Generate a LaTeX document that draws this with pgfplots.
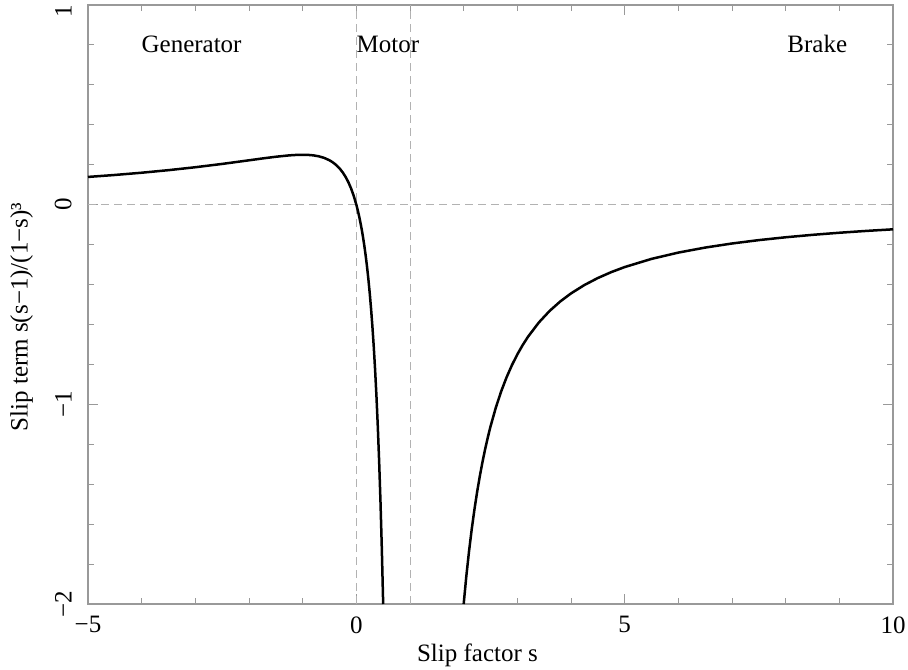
\documentclass[border=0pt]{standalone}
\usepackage{fontspec}
\setmainfont{Liberation Serif}
\usepackage{pgfplots}
\pgfplotsset{compat=1.18}
\begin{document}
\fontsize{12.5}{15}\selectfont
\begin{tikzpicture}
\begin{axis}[
  scale only axis,
  width=402.5pt, height=299.5pt,
  xmin=-5, xmax=10, ymin=-2, ymax=1,
  xtick={-5,0,5,10}, xticklabels={−5,0,5,10},
  ytick={-2,-1,0,1}, yticklabels={−2,−1,0,{1\hspace*{6.5pt}}},
  minor x tick num=4, minor y tick num=4,
  tick align=inside,
  major tick length=5pt, minor tick length=3pt,
  axis line style={gray!80, line width=0.6pt},
  tick style={gray!80, line width=0.5pt},
  xticklabel style={font=\fontsize{12.5}{15}\selectfont, inner sep=0pt, anchor=north},
  xticklabel shift=6pt,
  yticklabel style={rotate=90, anchor=south, inner sep=0pt, font=\fontsize{12.5}{15}\selectfont},
  yticklabel shift=8pt,
  xlabel={Slip factor s},
  ylabel={Slip term s(s−1)/(1−s)³},
  xlabel style={at={([xshift=-6.5pt,yshift=-25.5pt]axis description cs:0.5,0)}, anchor=center},
  ylabel style={at={([xshift=-33.25pt,yshift=-6.25pt]axis description cs:0,0.5)}, anchor=center},
  clip=true,
]
\addplot[gray!60, dash pattern=on 4pt off 2.5pt, line width=0.5pt] coordinates {(0,-2) (0,1)};
\addplot[gray!60, dash pattern=on 4pt off 2.5pt, line width=0.5pt] coordinates {(1,-2) (1,1)};
\addplot[gray!60, dash pattern=on 4pt off 2.5pt, line width=0.5pt] coordinates {(-5,0) (10,0)};
\addplot[black, line width=1.25pt, line join=round] coordinates {
(-5,0.13889) (-4.5,0.14876) (-4,0.16) (-3.5,0.17284) (-3,0.1875) (-2.5,0.20408)
(-2,0.22222) (-1.75,0.23140) (-1.5,0.24) (-1.25,0.24691) (-1.1,0.24943) (-1,0.25)
(-0.9,0.24931) (-0.8,0.24691) (-0.7,0.24221) (-0.6,0.234375) (-0.5,0.22222)
(-0.45,0.21403) (-0.4,0.20408) (-0.35,0.19204) (-0.3,0.17751) (-0.25,0.16)
(-0.2,0.13889) (-0.15,0.11342) (-0.1,0.08264) (-0.05,0.04535) (0,0)
(0.025,-0.02630) (0.05,-0.05540) (0.075,-0.08766) (0.1,-0.12346) (0.125,-0.16327)
(0.15,-0.20761) (0.175,-0.25712) (0.2,-0.3125) (0.225,-0.37461) (0.25,-0.44444)
(0.275,-0.52319) (0.3,-0.61224) (0.325,-0.71331) (0.35,-0.82840) (0.375,-0.96)
(0.4,-1.11111) (0.425,-1.28544) (0.45,-1.48760) (0.475,-1.72336) (0.5,-2)
};
\addplot[black, line width=1.25pt, line join=round] coordinates {
(2,-2) (2.05,-1.85941) (2.1,-1.73554) (2.15,-1.62571) (2.2,-1.52778) (2.25,-1.44)
(2.3,-1.36095) (2.35,-1.28944) (2.4,-1.22449) (2.45,-1.16528) (2.5,-1.11111)
(2.6,-1.01563) (2.7,-0.93426) (2.8,-0.86420) (2.9,-0.80332) (3,-0.75)
(3.1,-0.70295) (3.2,-0.66116) (3.4,-0.59028) (3.6,-0.53254) (3.8,-0.48469)
(4,-0.44444) (4.25,-0.40237) (4.5,-0.36735) (4.75,-0.33778) (5,-0.3125)
(5.5,-0.27160) (6,-0.24) (6.5,-0.21488) (7,-0.19444) (7.5,-0.17751) (8,-0.16327)
(8.5,-0.15111) (9,-0.140625) (9.5,-0.13149) (10,-0.12346)
};
\node[anchor=base] at (axis cs:-3.07,0.76) {Generator};
\node[anchor=base west, inner sep=0pt] at (axis cs:0,0.76) {Motor};
\node[anchor=base] at (axis cs:8.59,0.76) {Brake};
\end{axis}
\pgfresetboundingbox
\path[use as bounding box] ([xshift=-44pt,yshift=-32.5pt]current axis.south west) rectangle ([xshift=7.5pt,yshift=2.5pt]current axis.north east);
\end{tikzpicture}
\end{document}
